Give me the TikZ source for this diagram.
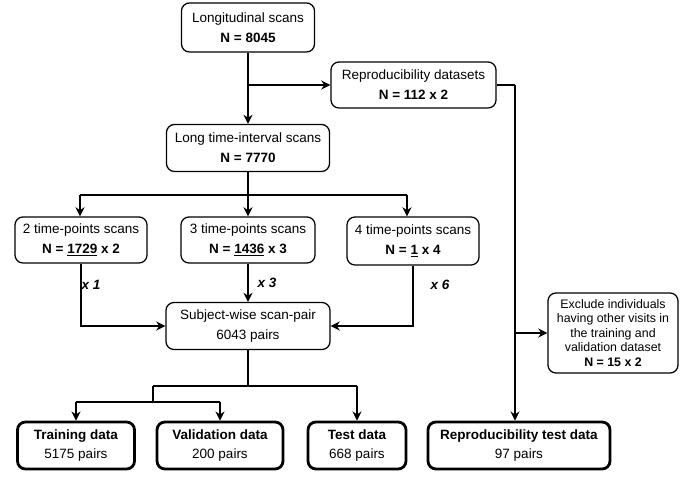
\documentclass[tikz,border=0pt]{standalone}
\usepackage{fontspec}
\setmainfont{Liberation Sans}
\usetikzlibrary{arrows.meta}
\begin{document}
\begin{tikzpicture}[x=0.025cm,y=-0.025cm]
\tikzstyle{every node}+=[inner sep=0pt]
\tikzstyle{box}=[draw,rounded corners=0.2cm,line width=0.9pt,align=center,font=\fontsize{9.6}{14.2}\selectfont]
\tikzstyle{outbox}=[box,line width=2pt]
\tikzstyle{arr}=[-{Stealth[length=6.5pt,width=6.5pt]},line width=0.8pt]
\tikzstyle{mult}=[font=\fontsize{9.6}{12}\selectfont\bfseries\itshape]
\useasboundingbox (0,0) rectangle (691,477);
\draw (248,27.5) node[box,minimum width=3.325cm,minimum height=1.225cm] (lon) {Longitudinal scans\\\textbf{N = 8045}};
\draw (413.5,85) node[box,minimum width=4.125cm,minimum height=1.15cm] (rep) {Reproducibility datasets\\\textbf{N = 112 x 2}};
\draw (248,148) node[box,minimum width=4.075cm,minimum height=1.175cm] (lti) {Long time-interval scans\\\textbf{N = 7770}};
\draw (81,240) node[box,minimum width=3.3cm,minimum height=1.15cm] (tp2) {2 time-points scans\\\textbf{N = \underline{1729} x 2}};
\draw (248,240) node[box,minimum width=3.35cm,minimum height=1.15cm] (tp3) {3 time-points scans\\\textbf{N = \underline{1436} x 3}};
\draw (413,241) node[box,minimum width=3.3cm,minimum height=1.2cm] (tp4) {4 time-points scans\\\textbf{N = \underline{1} x 4}};
\draw (248,326) node[box,minimum width=4.1cm,minimum height=1.175cm] (sub) {Subject-wise scan-pair\\6043 pairs};
\draw (613,333) node[box,minimum width=3.25cm,minimum height=2cm,font=\fontsize{8.8}{10.3}\selectfont] (exc) {Exclude individuals\\having other visits in\\the training and\\validation dataset\\\textbf{N = 15 x 2}};
\draw (76,445.5) node[outbox,minimum width=2.925cm,minimum height=1.175cm] (trn) {\textbf{Training data}\\5175 pairs};
\draw (220,445.5) node[outbox,minimum width=3.15cm,minimum height=1.175cm] (val) {\textbf{Validation data}\\200 pairs};
\draw (357,445.5) node[outbox,minimum width=2.45cm,minimum height=1.175cm] (tst) {\textbf{Test data}\\668 pairs};
\draw (519,445.5) node[outbox,minimum width=4.55cm,minimum height=1.175cm] (rpt) {\textbf{Reproducibility test data}\\97 pairs};
\coordinate (split) at (248,195);
\coordinate (s2) at (80,195);
\coordinate (s4) at (407,195);
\coordinate (rr) at (515,85);
\coordinate (b2) at (153,386);
\coordinate (b3) at (357,386);
\coordinate (c1) at (76,402);
\coordinate (c2) at (220,402);
\draw[arr] (lon) -- (lti);
\draw[arr] (lon.south |- rep.west) -- (rep.west);
\draw[line width=0.8pt] (lti.south) -- (split);
\draw[line width=0.8pt] (s2) -- (s4);
\draw[arr] (s2) -- (s2 |- tp2.north);
\draw[arr] (split) -- (split |- tp3.north);
\draw[arr] (s4) -- (s4 |- tp4.north);
\draw[arr] (tp2.south) |- (sub.west);
\draw (91,285) node[mult] (m1) {x 1};
\draw[arr] (tp3.south) -- (sub.north);
\draw (267,283) node[mult] (m3) {x 3};
\draw[arr] (tp4.south) |- (sub.east);
\draw (440,285) node[mult] (m6) {x 6};
\draw[line width=0.8pt] (rep.east) -- (rr);
\draw[arr] (rr) -- (rr |- rpt.north);
\draw[arr] (rr |- exc.west) -- (exc.west);
\draw[line width=0.8pt] (sub.south) -- (sub.south |- b2);
\draw[line width=0.8pt] (b2) -- (b3);
\draw[arr] (b3) -- (b3 |- tst.north);
\draw[line width=0.8pt] (b2) -- (b2 |- c1);
\draw[line width=0.8pt] (c1) -- (c2);
\draw[arr] (c1) -- (c1 |- trn.north);
\draw[arr] (c2) -- (c2 |- val.north);
\end{tikzpicture}
\end{document}
